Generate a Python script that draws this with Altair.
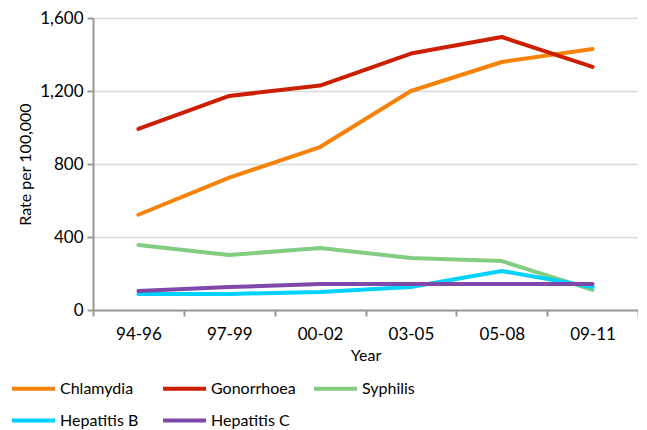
import altair as alt
import pandas as pd

years = ["94-96", "97-99", "00-02", "03-05", "05-08", "09-11"]
series_names = ["Chlamydia", "Gonorrhoea", "Syphilis", "Hepatitis B", "Hepatitis C"]
chlamydia = [522, 725, 893, 1200, 1359, 1430]
gonorrhoea = [992, 1173, 1230, 1405, 1496, 1332]
syphilis = [356, 301, 340, 285, 268, 110]
hepatitis_b = [88, 88, 99, 126, 214, 126]
hepatitis_c = [104, 126, 142, 142, 142, 142]
colors = ["#F5830A", "#CC1F00", "#82CD82", "#00D2FF", "#8048A8"]

values = [chlamydia, gonorrhoea, syphilis, hepatitis_b, hepatitis_c]
rows = []
for name, vals in zip(series_names, values):
    for yr, v in zip(years, vals):
        rows.append({"Year": yr, "Series": name, "Rate": v})
df = pd.DataFrame(rows)

FONT = "Lato"

chart = alt.Chart(df).mark_line(strokeWidth=4, strokeCap="round", strokeJoin="round").encode(
    x=alt.X("Year:N", sort=years, bandPosition=0.5,
            scale=alt.Scale(type="band", domain=years, paddingInner=0, paddingOuter=0),
            axis=alt.Axis(title="Year", labelAngle=0, tickBand="extent", tickSize=6,
                          labelPadding=10, titlePadding=5, domainColor="#999999",
                          domainWidth=2, tickColor="#999999", tickWidth=2,
                          labelFontSize=17, titleFontSize=16, labelFont=FONT,
                          titleFont=FONT, labelColor="#000000", titleColor="#000000",
                          titleFontWeight="normal", grid=False)),
    y=alt.Y("Rate:Q", scale=alt.Scale(domain=[0, 1600]),
            axis=alt.Axis(title="Rate per 100,000", values=[0, 400, 800, 1200, 1600],
                          format=",d", tickSize=6, labelPadding=4, titlePadding=6,
                          domainColor="#999999", domainWidth=2, tickColor="#999999",
                          tickWidth=2, gridColor="#D9D9D9", gridWidth=1.5,
                          labelFontSize=17, titleFontSize=16, labelFont=FONT,
                          titleFont=FONT, labelColor="#000000", titleColor="#000000",
                          titleFontWeight="normal")),
    color=alt.Color("Series:N", sort=series_names,
                    scale=alt.Scale(domain=series_names, range=colors),
                    legend=alt.Legend(title=None, orient="none", legendX=-83, legendY=347,
                                      direction="horizontal", columns=3, gridAlign="all",
                                      symbolType="stroke", symbolSize=1849,
                                      symbolStrokeWidth=4, labelFontSize=16,
                                      labelFont=FONT, labelColor="#000000",
                                      columnPadding=10, rowPadding=-13, labelOffset=3)),
).properties(
    width=545, height=292,
    autosize=alt.AutoSizeParams(type="none"),
    padding={"left": 85, "top": 10, "right": 0, "bottom": 119},
).configure_view(stroke=None)

chart.save("out.html", embed_options={"renderer": "svg", "actions": False})
